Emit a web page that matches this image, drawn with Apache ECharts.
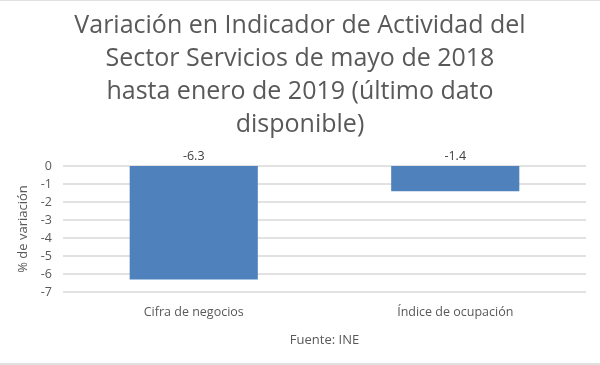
<!DOCTYPE html>
<html><head><meta charset="utf-8">
<script src="https://cdn.jsdelivr.net/npm/echarts@6/dist/echarts.min.js"></script>
<style>html,body{margin:0;padding:0;background:#fff}#c{width:600px;height:365px}</style>
</head><body><div id="c"></div>
<script>
var categories = ['Cifra de negocios', 'Índice de ocupación'];
var values = [-6.3, -1.4];
var titleText = 'Variación en Indicador de Actividad del\nSector Servicios de mayo de 2018\nhasta enero de 2019 (último dato\ndisponible)';
var yName = '% de variación';
var xName = 'Fuente: INE';

var chart = echarts.init(document.getElementById('c'));
chart.setOption({
  animation: false,
  textStyle: {fontFamily: 'Open Sans'},
  title: {
    text: titleText, left: 'center', top: 4,
    textStyle: {fontFamily: 'Open Sans', fontSize: 25, fontWeight: 'normal', color: '#595959', lineHeight: 33}
  },
  grid: {left: 63, right: 14, top: 166, bottom: 73},
  xAxis: {
    type: 'category', data: categories, position: 'bottom',
    axisLine: {show: false}, axisTick: {show: false},
    axisLabel: {color: '#595959', fontSize: 12.5, margin: 14},
    name: xName, nameLocation: 'middle', nameGap: 42,
    nameTextStyle: {color: '#595959', fontSize: 13}
  },
  yAxis: {
    type: 'value', min: -7, max: 0, interval: 1,
    axisLine: {show: false}, axisTick: {show: false},
    axisLabel: {color: '#595959', fontSize: 12.5, margin: 11},
    splitLine: {lineStyle: {color: '#d9d9d9', width: 1.5}},
    name: yName, nameLocation: 'middle', nameGap: 28,
    nameTextStyle: {color: '#595959', fontSize: 13}
  },
  series: [{
    type: 'bar', data: values, barWidth: '49%',
    itemStyle: {color: '#4f81bd'},
    label: {show: true, position: 'top', color: '#404040', fontSize: 12.5, distance: 3}
  }],
  graphic: [
    {type: 'line', shape: {x1: 0, y1: 0.5, x2: 600, y2: 0.5}, style: {stroke: '#e0e0e0', lineWidth: 1}},
    {type: 'line', shape: {x1: 0, y1: 364, x2: 600, y2: 364}, style: {stroke: '#e0e0e0', lineWidth: 2}}
  ]
});
</script></body></html>
